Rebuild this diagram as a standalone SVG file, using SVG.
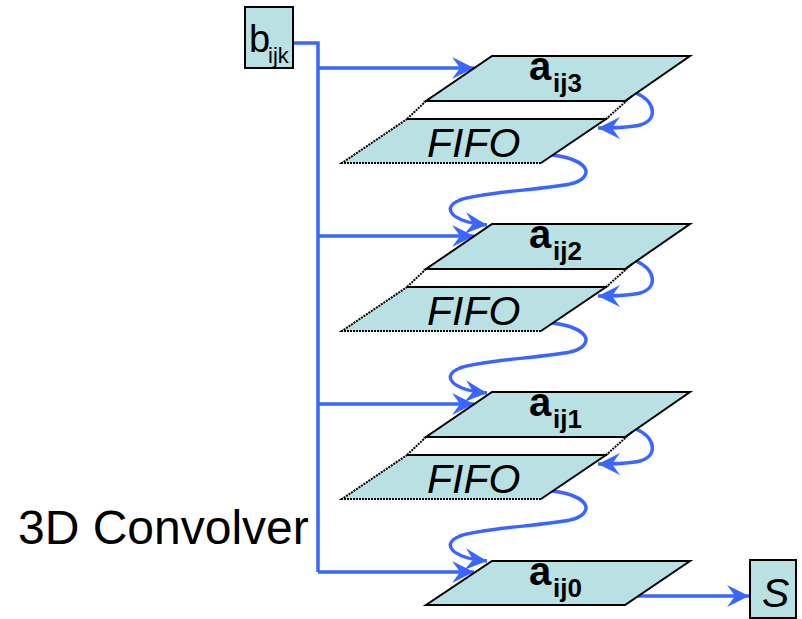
<svg xmlns="http://www.w3.org/2000/svg" width="802" height="619" viewBox="0 0 802 619">
<defs>
<style>
.box{fill:#B9E0E3;stroke:#000;stroke-width:2}
.fill{fill:#B9E0E3;stroke:none}
.edge{fill:none;stroke:#000;stroke-width:2}
.dot{fill:none;stroke:#000;stroke-width:2;stroke-dasharray:2 1}
.wire{fill:none;stroke:#3A66FF;stroke-width:3.5}
.arr{fill:none;stroke:#3A66FF;stroke-width:3.5;marker-end:url(#ah)}
.ta{font-family:"Liberation Sans",Arial,sans-serif;font-weight:bold;fill:#000}
.tn{font-family:"Liberation Sans",Arial,sans-serif;fill:#000}
.tf{font-family:"Liberation Sans",Arial,sans-serif;font-style:italic;font-size:41px;fill:#000}
</style>
<marker id="ah" markerUnits="userSpaceOnUse" markerWidth="24" markerHeight="24" refX="22" refY="11" orient="auto" viewBox="0 0 24 24">
<path d="M0,0 L22,11 L0,22 L8,11 z" fill="#3A66FF"/>
</marker>
</defs>
<rect width="802" height="619" fill="#fff"/>

<g id="connectors">
<path class="wire" d="M293,43 H318 V572"/>
<path class="arr" d="M318,68 H474"/>
<path class="arr" d="M318,236 H474"/>
<path class="arr" d="M318,404 H474"/>
<path class="arr" d="M318,572 H474"/>
<path class="arr" d="M636,93 C656,102 658,120 640,125 C628,128 614,128 598,128"/>
<path class="arr" d="M636,261 C656,270 658,288 640,293 C628,296 614,296 598,296"/>
<path class="arr" d="M636,429 C656,438 658,456 640,461 C628,464 614,464 598,464"/>
<path class="arr" d="M552,155 C592,160 595,178 570,184 C540,190 482,192 460,200 C440,208 452,222 487,225"/>
<path class="arr" d="M552,323 C592,328 595,346 570,352 C540,358 482,360 460,368 C440,376 452,390 487,393"/>
<path class="arr" d="M552,491 C592,496 595,514 570,520 C540,526 482,528 460,536 C440,544 452,558 487,561"/>
<path class="arr" d="M637,596 H749"/>
</g>

<g id="b_ijk">
<rect class="box" x="245" y="7" width="48" height="61"/>
<text class="tn" x="249" y="52" font-size="38">b</text>
<text class="tn" x="268" y="63" font-size="22">ijk</text>
</g>

<g id="a_ij3">
<polygon class="box" points="492,56 690,56 625,101 426,101"/>
<text class="ta" x="529" y="80" font-size="40">a</text>
<text class="ta" x="553" y="92" font-size="26">ij3</text>
</g>
<g id="fifo3">
<path class="dot" d="M426,101 L407,119"/>
<path class="dot" d="M632,96 L606,119"/>
<polygon class="fill" points="407,119 606,119 541,163 342,163"/>
<path class="edge" d="M407,119 H606 L541,163"/>
<path class="dot" d="M541,163 H342 L407,119"/>
<text class="tf" x="427" y="157">FIFO</text>
</g>

<g id="a_ij2">
<polygon class="box" points="492,224 690,224 625,269 426,269"/>
<text class="ta" x="529" y="248" font-size="40">a</text>
<text class="ta" x="553" y="260" font-size="26">ij2</text>
</g>
<g id="fifo2">
<path class="dot" d="M426,269 L407,287"/>
<path class="dot" d="M632,264 L606,287"/>
<polygon class="fill" points="407,287 606,287 541,331 342,331"/>
<path class="edge" d="M407,287 H606 L541,331"/>
<path class="dot" d="M541,331 H342 L407,287"/>
<text class="tf" x="427" y="325">FIFO</text>
</g>

<g id="a_ij1">
<polygon class="box" points="492,392 690,392 625,437 426,437"/>
<text class="ta" x="529" y="416" font-size="40">a</text>
<text class="ta" x="553" y="428" font-size="26">ij1</text>
</g>
<g id="fifo1">
<path class="dot" d="M426,437 L407,455"/>
<path class="dot" d="M632,432 L606,455"/>
<polygon class="fill" points="407,455 606,455 541,499 342,499"/>
<path class="edge" d="M407,455 H606 L541,499"/>
<path class="dot" d="M541,499 H342 L407,455"/>
<text class="tf" x="427" y="493">FIFO</text>
</g>

<g id="a_ij0">
<polygon class="box" points="492,561 690,561 625,605 426,605"/>
<text class="ta" x="529" y="585" font-size="40">a</text>
<text class="ta" x="553" y="597" font-size="26">ij0</text>
</g>

<g id="S">
<rect class="box" x="750" y="560" width="46" height="58"/>
<text class="tf" x="762" y="607" font-size="42">S</text>
</g>

<g id="label">
<text class="tn" x="18" y="544" font-size="48">3D Convolver</text>
</g>
</svg>
